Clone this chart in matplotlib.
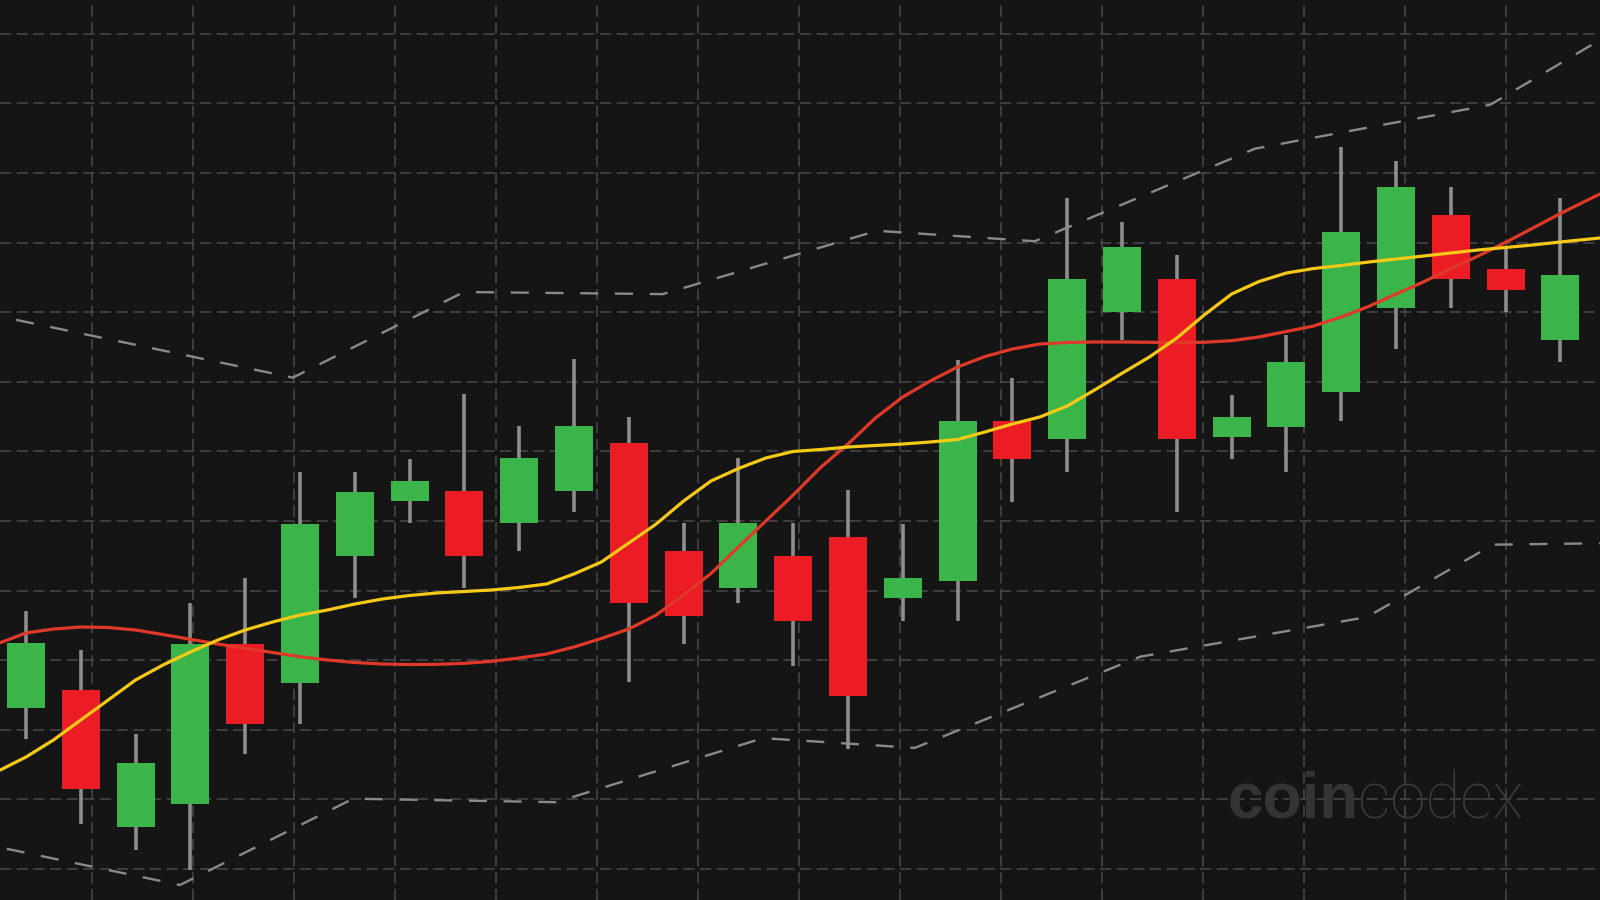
import numpy as np
import matplotlib
matplotlib.use("Agg")
import matplotlib.pyplot as plt

# ---- data (price units) ----
opens  = [33.2, 35.7, 16.0, 19.4, 42.3, 36.7, 55.0, 62.9, 64.3, 59.7, 64.3, 71.2, 55.7, 50.4, 55.0,
          57.7, 48.9, 51.4, 74.3, 71.8, 90.0, 94.7, 72.1, 73.5, 78.6, 90.6, 104.0, 96.2, 86.0]
highs  = [47.0, 41.4, 29.4, 48.2, 51.8, 67.1, 67.1, 68.9, 78.2, 73.6, 83.3, 75.0, 59.7, 69.0, 59.7,
          64.5, 59.6, 83.2, 80.6, 106.4, 102.9, 98.2, 78.1, 86.7, 113.7, 111.7, 108.0, 99.4, 106.4]
lows   = [28.7, 16.5, 12.8, 9.9, 26.5, 30.8, 48.9, 59.7, 50.4, 55.7, 61.3, 36.8, 42.3, 48.2, 39.2,
          27.2, 45.7, 45.7, 62.8, 67.1, 86.0, 61.3, 68.9, 67.1, 74.3, 84.7, 90.6, 90.1, 82.8]
closes = [42.5, 21.5, 25.3, 42.3, 30.8, 59.6, 64.2, 65.7, 55.0, 69.0, 73.6, 48.2, 46.4, 59.7, 45.7,
          34.8, 51.8, 74.3, 68.9, 94.7, 99.4, 71.8, 74.9, 82.8, 101.5, 108.0, 94.7, 93.2, 95.3]

# moving averages, read every half candle (plus the chart edges)
ma_x = [-0.47] + [k / 2 for k in range(57)] + [28.72]
ma_fast = [24.22, 26.09, 28.53, 31.41, 34.28, 37.16, 39.31, 41.18, 42.90, 44.34, 45.49, 46.49, 47.21,
           48.07, 48.79, 49.30, 49.66, 49.87, 50.09, 50.45, 50.95, 52.39, 54.11, 56.84, 59.57, 62.87,
           65.75, 67.54, 69.05, 69.99, 70.27, 70.63, 70.85, 71.06, 71.35, 71.71, 72.79, 73.94, 74.94,
           76.52, 78.82, 81.22, 83.56, 86.29, 89.60, 92.61, 94.41, 95.63, 96.28, 96.71, 97.21, 97.64,
           98.07, 98.51, 98.94, 99.30, 99.66, 100.09, 100.66]
ma_slow = [42.51, 43.91, 44.48, 44.77, 44.70, 44.34, 43.69, 43.00, 42.33, 41.71, 41.11, 40.50, 40.03,
           39.67, 39.45, 39.38, 39.41, 39.55, 39.84, 40.32, 40.89, 41.90, 43.12, 44.48, 46.49, 49.37,
           52.46, 56.26, 60.00, 63.74, 67.69, 71.06, 74.80, 77.82, 80.11, 82.13, 83.63, 84.71, 85.43,
           85.65, 85.72, 85.72, 85.68, 85.65, 85.68, 85.91, 86.44, 87.23, 88.02, 89.31, 90.82, 92.61,
           94.34, 96.28, 98.07, 100.03, 102.10, 104.18, 106.98]

# band vertices
upper_x = [-0.18, 4.87, 7.99, 11.62, 15.53, 18.41, 22.43, 26.72, 28.72]
upper_v = [88.9, 80.6, 92.9, 92.6, 101.7, 100.2, 113.5, 119.8, 129.1]
lower_x = [-0.35, 2.81, 5.97, 9.67, 13.45, 16.22, 20.33, 24.47, 26.77, 28.72]
lower_v = [12.9, 7.7, 20.1, 19.6, 28.8, 27.4, 40.5, 46.2, 56.6, 56.8]

BG = "#151515"
GREEN = "#3bb54a"
RED = "#ec1c24"
WICK = "#8e8e8e"

plt.rcParams["lines.scale_dashes"] = False
fig = plt.figure(figsize=(16, 9), dpi=100, facecolor=BG)
ax = fig.add_axes([0, 0, 1, 1])
ax.set_facecolor(BG)
for s in ax.spines.values():
    s.set_visible(False)
ax.tick_params(length=0, labelbottom=False, labelleft=False)

ax.set_xlim(-0.4745, 28.723)
ax.set_ylim(10 - 31 / 6.96, 10 + 869 / 6.96)
ax.set_xticks(1.204 + 1.8431 * np.arange(15))
ax.set_yticks(np.arange(10, 131, 10))
ax.set_axisbelow(True)
ax.grid(True, color="#4a4a4a", lw=1.1, linestyle=(0, (8, 4)))

# watermark
fig.text(1228 / 1600, 1 - 818 / 900, "coin", color="#343434", fontsize=46,
         fontweight="bold", family="Liberation Sans", ha="left", va="baseline", zorder=0)
fig.text(1358 / 1600, 1 - 818 / 900, "codex", color="#3a3a3a", fontsize=46,
         fontweight="light", family="Roboto", ha="left", va="baseline", zorder=0)
ax.patch.set_alpha(0)

idx = np.arange(len(opens))
o = np.array(opens); c = np.array(closes)
cols = [GREEN if cc >= oo else RED for oo, cc in zip(o, c)]

ax.plot(upper_x, upper_v, color="#8a8a8a", lw=1.7, linestyle=(0, (13, 12)), zorder=2)
ax.plot(lower_x, lower_v, color="#8a8a8a", lw=1.7, linestyle=(0, (13, 12)), zorder=2)

ax.vlines(idx, lows, highs, color=WICK, lw=2.6, zorder=3)
ax.bar(idx, np.abs(c - o), bottom=np.minimum(o, c), width=0.695, color=cols, zorder=4, linewidth=0)

ax.plot(ma_x, ma_slow, color="#e0392a", lw=2.3, zorder=5, solid_capstyle="round", solid_joinstyle="round")
ax.plot(ma_x, ma_fast, color="#f5c915", lw=2.3, zorder=6, solid_capstyle="round", solid_joinstyle="round")

fig.savefig("out.png", dpi=100, facecolor=BG)
